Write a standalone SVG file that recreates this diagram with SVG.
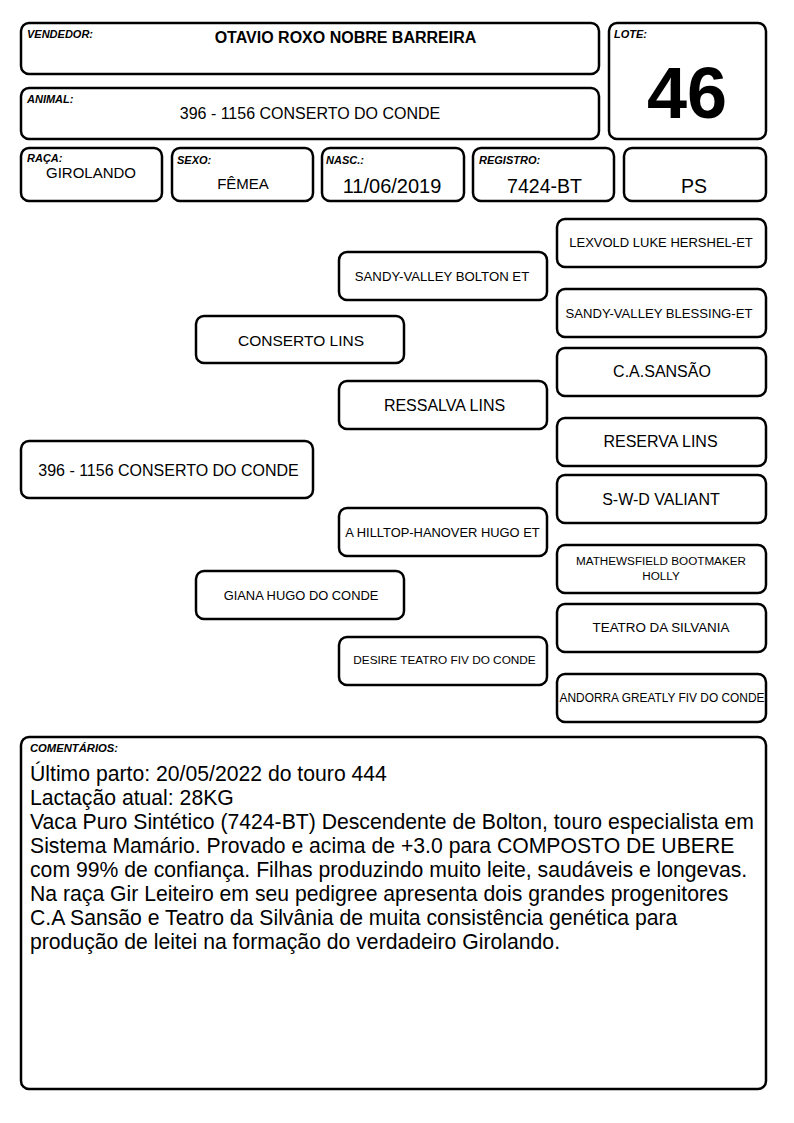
<svg xmlns="http://www.w3.org/2000/svg" width="794" height="1123" viewBox="0 0 794 1123">
<style>
.box{fill:#fff;stroke:#000;stroke-width:2.5}
.lbl{font-family:"Liberation Sans",Arial,sans-serif;font-size:11px;font-weight:bold;font-style:italic;fill:#000}
.t{font-family:"Liberation Sans",Arial,sans-serif;fill:#000;text-anchor:middle}
.c{font-family:"Liberation Sans",Arial,sans-serif;fill:#000;font-size:21.2px}
</style>
<rect width="794" height="1123" fill="#fff"/>
<g id="vendedor">
<rect class="box" x="21" y="23" width="578" height="51" rx="8"/>
<text class="lbl" x="27" y="38">VENDEDOR:</text>
<text class="t" x="345.5" y="43" font-size="16" font-weight="bold">OTAVIO ROXO NOBRE BARREIRA</text>
</g>
<g id="lote">
<rect class="box" x="609" y="23" width="157" height="116" rx="8"/>
<text class="lbl" x="614" y="38">LOTE:</text>
<text class="t" x="687" y="118" font-size="72" font-weight="bold">46</text>
</g>
<g id="animal">
<rect class="box" x="21" y="88" width="578" height="51" rx="8"/>
<text class="lbl" x="27" y="103">ANIMAL:</text>
<text class="t" x="310" y="119" font-size="16">396 - 1156 CONSERTO DO CONDE</text>
</g>
<g id="raca">
<rect class="box" x="21" y="148" width="141" height="53" rx="8"/>
<text class="lbl" x="27" y="162">RAÇA:</text>
<text class="t" x="91" y="178" font-size="15">GIROLANDO</text>
</g>
<g id="sexo">
<rect class="box" x="172" y="148" width="141" height="53" rx="8"/>
<text class="lbl" x="177" y="164">SEXO:</text>
<text class="t" x="243" y="189" font-size="15">FÊMEA</text>
</g>
<g id="nasc">
<rect class="box" x="322" y="148" width="142" height="53" rx="8"/>
<text class="lbl" x="326" y="164">NASC.:</text>
<text class="t" x="392" y="193" font-size="20">11/06/2019</text>
</g>
<g id="registro">
<rect class="box" x="473" y="148" width="141" height="53" rx="8"/>
<text class="lbl" x="479" y="164">REGISTRO:</text>
<text class="t" x="544.5" y="193" font-size="19.5">7424-BT</text>
</g>
<g id="ps">
<rect class="box" x="624" y="148" width="142" height="53" rx="8"/>
<text class="t" x="694" y="193" font-size="19.5">PS</text>
</g>
<g id="connectors"></g>
<g id="p-animal">
<rect class="box" x="21" y="441" width="292" height="57" rx="8"/>
<text class="t" x="168.5" y="476" font-size="16">396 - 1156 CONSERTO DO CONDE</text>
</g>
<g id="p-sire">
<rect class="box" x="196" y="316" width="208" height="47" rx="8"/>
<text class="t" x="301" y="346" font-size="15.5">CONSERTO LINS</text>
</g>
<g id="p-dam">
<rect class="box" x="196" y="571" width="208" height="48" rx="8"/>
<text class="t" x="301" y="600" font-size="12.9">GIANA HUGO DO CONDE</text>
</g>
<g id="p-ss">
<rect class="box" x="339" y="252" width="208" height="48" rx="8"/>
<text class="t" x="442" y="281" font-size="13.2">SANDY-VALLEY BOLTON ET</text>
</g>
<g id="p-sd">
<rect class="box" x="339" y="381" width="208" height="48" rx="8"/>
<text class="t" x="444.5" y="411" font-size="16">RESSALVA LINS</text>
</g>
<g id="p-ds">
<rect class="box" x="339" y="508" width="208" height="48" rx="8"/>
<text class="t" x="442.5" y="537" font-size="12.9">A HILLTOP-HANOVER HUGO ET</text>
</g>
<g id="p-dd">
<rect class="box" x="339" y="637" width="208" height="48" rx="8"/>
<text class="t" x="444.5" y="664" font-size="11.8">DESIRE TEATRO FIV DO CONDE</text>
</g>
<g id="p-sss">
<rect class="box" x="557" y="219" width="209" height="48" rx="8"/>
<text class="t" x="661" y="247" font-size="13">LEXVOLD LUKE HERSHEL-ET</text>
</g>
<g id="p-ssd">
<rect class="box" x="557" y="289" width="209" height="48" rx="8"/>
<text class="t" x="659" y="318" font-size="13.1">SANDY-VALLEY BLESSING-ET</text>
</g>
<g id="p-sds">
<rect class="box" x="557" y="348" width="209" height="48" rx="8"/>
<text class="t" x="662" y="377" font-size="16">C.A.SANSÃO</text>
</g>
<g id="p-sdd">
<rect class="box" x="557" y="418" width="209" height="48" rx="8"/>
<text class="t" x="660.5" y="447" font-size="16">RESERVA LINS</text>
</g>
<g id="p-dss">
<rect class="box" x="557" y="475" width="209" height="48" rx="8"/>
<text class="t" x="661" y="505" font-size="16">S-W-D VALIANT</text>
</g>
<g id="p-dsd">
<rect class="box" x="557" y="545" width="209" height="48" rx="8"/>
<text class="t" x="661" y="565" font-size="11.7">MATHEWSFIELD BOOTMAKER</text>
<text class="t" x="661" y="580" font-size="11.7">HOLLY</text>
</g>
<g id="p-dds">
<rect class="box" x="557" y="604" width="209" height="48" rx="8"/>
<text class="t" x="661" y="632" font-size="13.4">TEATRO DA SILVANIA</text>
</g>
<g id="p-ddd">
<rect class="box" x="557" y="674" width="209" height="48" rx="8"/>
<text class="t" x="662" y="702" font-size="11.9">ANDORRA GREATLY FIV DO CONDE</text>
</g>
<g id="comentarios">
<rect class="box" x="21" y="737" width="745" height="352" rx="8"/>
<text class="lbl" x="30" y="752" font-size="10" textLength="88" lengthAdjust="spacingAndGlyphs">COMENTÁRIOS:</text>
<text class="c" x="30" y="781">Último parto: 20/05/2022 do touro 444</text>
<text class="c" x="30" y="805">Lactação atual: 28KG</text>
<text class="c" x="30" y="829">Vaca Puro Sintético (7424-BT) Descendente de Bolton, touro especialista em</text>
<text class="c" x="30" y="853">Sistema Mamário. Provado e acima de +3.0 para COMPOSTO DE UBERE</text>
<text class="c" x="30" y="877">com 99% de confiança. Filhas produzindo muito leite, saudáveis e longevas.</text>
<text class="c" x="30" y="901">Na raça Gir Leiteiro em seu pedigree apresenta dois grandes progenitores</text>
<text class="c" x="30" y="925">C.A Sansão e Teatro da Silvânia de muita consistência genética para</text>
<text class="c" x="30" y="949">produção de leitei na formação do verdadeiro Girolando.</text>
</g>
</svg>
